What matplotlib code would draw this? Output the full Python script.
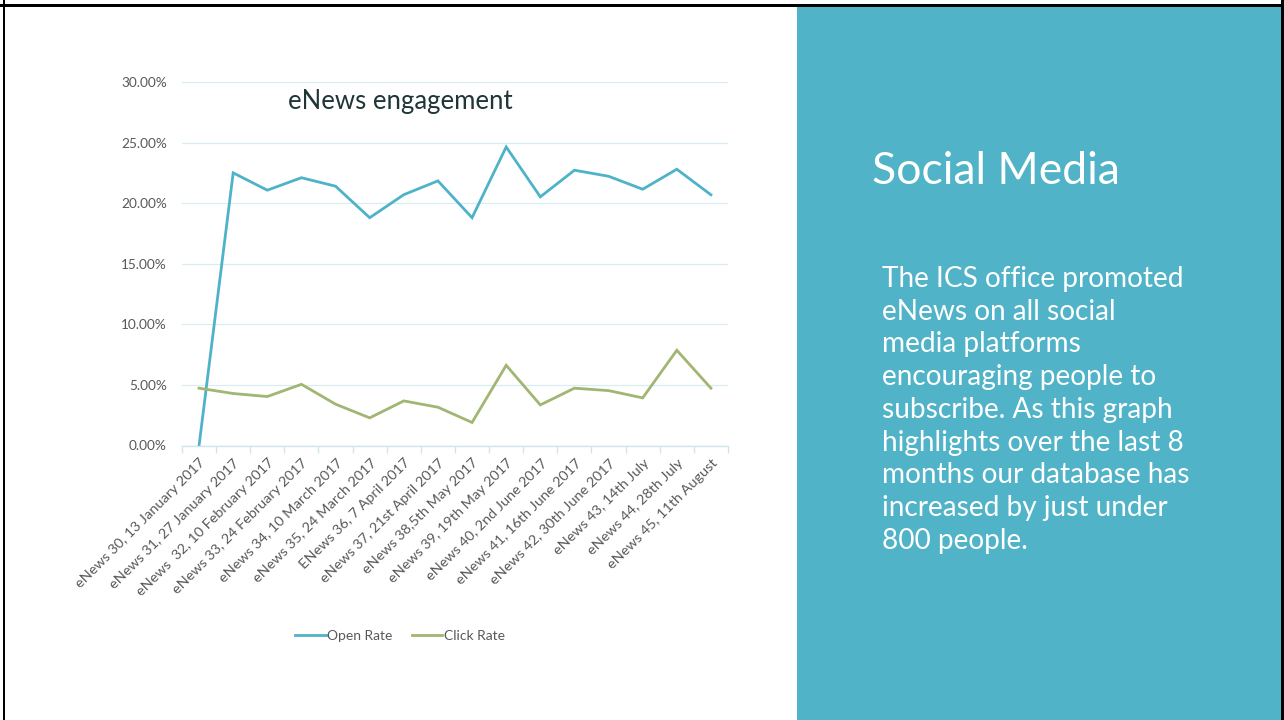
import matplotlib
matplotlib.use("Agg")
import matplotlib.pyplot as plt
from matplotlib.patches import Rectangle
from matplotlib.ticker import FuncFormatter

# ----------------- data
issues = ["eNews 30, 13 January 2017", "eNews 31, 27 January 2017",
          "eNews  32, 10 February 2017", "eNews 33, 24 February 2017",
          "eNews 34, 10 March 2017", "eNews 35, 24 March 2017",
          "ENews 36, 7 April 2017", "eNews 37, 21st April 2017",
          "eNews 38,5th May 2017", "eNews 39, 19th May 2017",
          "eNews 40, 2nd June 2017", "eNews 41, 16th June 2017",
          "eNews 42, 30th June 2017", "eNews 43, 14th July",
          "eNews 44, 28th July", "eNews 45, 11th August"]
open_rate = [0.0, 22.50, 21.07, 22.10, 21.40, 18.80, 20.70, 21.84,
             18.80, 24.64, 20.52, 22.72, 22.22, 21.15, 22.80, 20.69]
click_rate = [4.73, 4.29, 4.04, 5.05, 3.41, 2.28, 3.68, 3.16,
              1.90, 6.62, 3.35, 4.73, 4.53, 3.93, 7.86, 4.73]
y_ticks = [0, 5, 10, 15, 20, 25, 30]

panel_title = "Social Media"
panel_lines = ["The ICS office promoted", "eNews on all social",
               "media platforms", "encouraging people to",
               "subscribe. As this graph", "highlights over the last 8",
               "months our database has", "increased by just under",
               "800 people."]

OPEN_COL = "#4EB3C8"
CLICK_COL = "#A0B672"
TEAL = "#50B3C7"
FONT = ["Lato", "DejaVu Sans"]

plt.rcParams['font.family'] = FONT

fig = plt.figure(figsize=(12.84, 7.2), dpi=100)
fig.patch.set_facecolor("white")

# slide decoration: teal side panel and black frame
W, H = 1284.0, 720.0
fig.patches.append(Rectangle((797 / W, 0), (1281 - 797) / W, (720 - 7) / H,
                             transform=fig.transFigure, facecolor=TEAL,
                             edgecolor="none", zorder=0))
fig.patches.append(Rectangle((0, (720 - 7) / H), 1, 3 / H, transform=fig.transFigure,
                             facecolor="black", edgecolor="none", zorder=1))
fig.patches.append(Rectangle((3 / W, 0), 2.5 / W, 1, transform=fig.transFigure,
                             facecolor="black", edgecolor="none", zorder=1))
fig.patches.append(Rectangle((1281 / W, 0), 3 / W, 1, transform=fig.transFigure,
                             facecolor="black", edgecolor="none", zorder=1))

# ----------------- chart
ax = fig.add_axes([182 / W, (720 - 445.5) / H, 546 / W, 363.5 / H])
x = list(range(len(issues)))
ax.plot(x, open_rate, color=OPEN_COL, lw=2.0, label="Open Rate",
        solid_joinstyle="miter")
ax.plot(x, click_rate, color=CLICK_COL, lw=2.0, label="Click Rate",
        solid_joinstyle="miter")

ax.set_xlim(-0.5, len(issues) - 0.5)
ax.set_ylim(0, 30)
ax.set_yticks(y_ticks)
ax.yaxis.set_major_formatter(FuncFormatter(lambda v, p: f"{v:.2f}%"))
ax.grid(axis="y", color="#D8EDF1", lw=0.9)
ax.set_axisbelow(True)
for s in ["top", "right", "left"]:
    ax.spines[s].set_visible(False)
ax.spines["bottom"].set_color("#D0E6EC")
ax.spines["bottom"].set_linewidth(1.0)

ax.set_xticks([i - 0.5 for i in range(len(issues) + 1)], minor=True)
ax.set_xticks(x)
ax.set_xticklabels(issues, rotation=45, ha="right", rotation_mode="anchor",
                   fontsize=10.4, color="#595959")
ax.tick_params(axis="x", which="major", length=0, pad=8)
ax.tick_params(axis="x", which="minor", length=5, color="#D0E6EC", width=1.0)
ax.tick_params(axis="y", length=0, labelsize=9.8, labelcolor="#595959", pad=11)

fig.text(400 / W, 1 - 101 / H, "eNews engagement", ha="center", va="center",
         fontsize=18.5, color="#1F3538")

fig.legend(loc="center", bbox_to_anchor=(400 / W, 1 - 636 / H), ncol=2,
           frameon=False, fontsize=10, labelcolor="#595959",
           handlelength=2.2, handletextpad=0.1, columnspacing=1.4)

# ----------------- side panel text
fig.text(872 / W, 1 - 172 / H, panel_title, ha="left", va="center",
         fontsize=32, color="white")
for i, line in enumerate(panel_lines):
    fig.text(882 / W, 1 - (279 + i * 32.7) / H, line, ha="left", va="center",
             fontsize=20.2, color="white")

fig.savefig("out.png", dpi=100)
